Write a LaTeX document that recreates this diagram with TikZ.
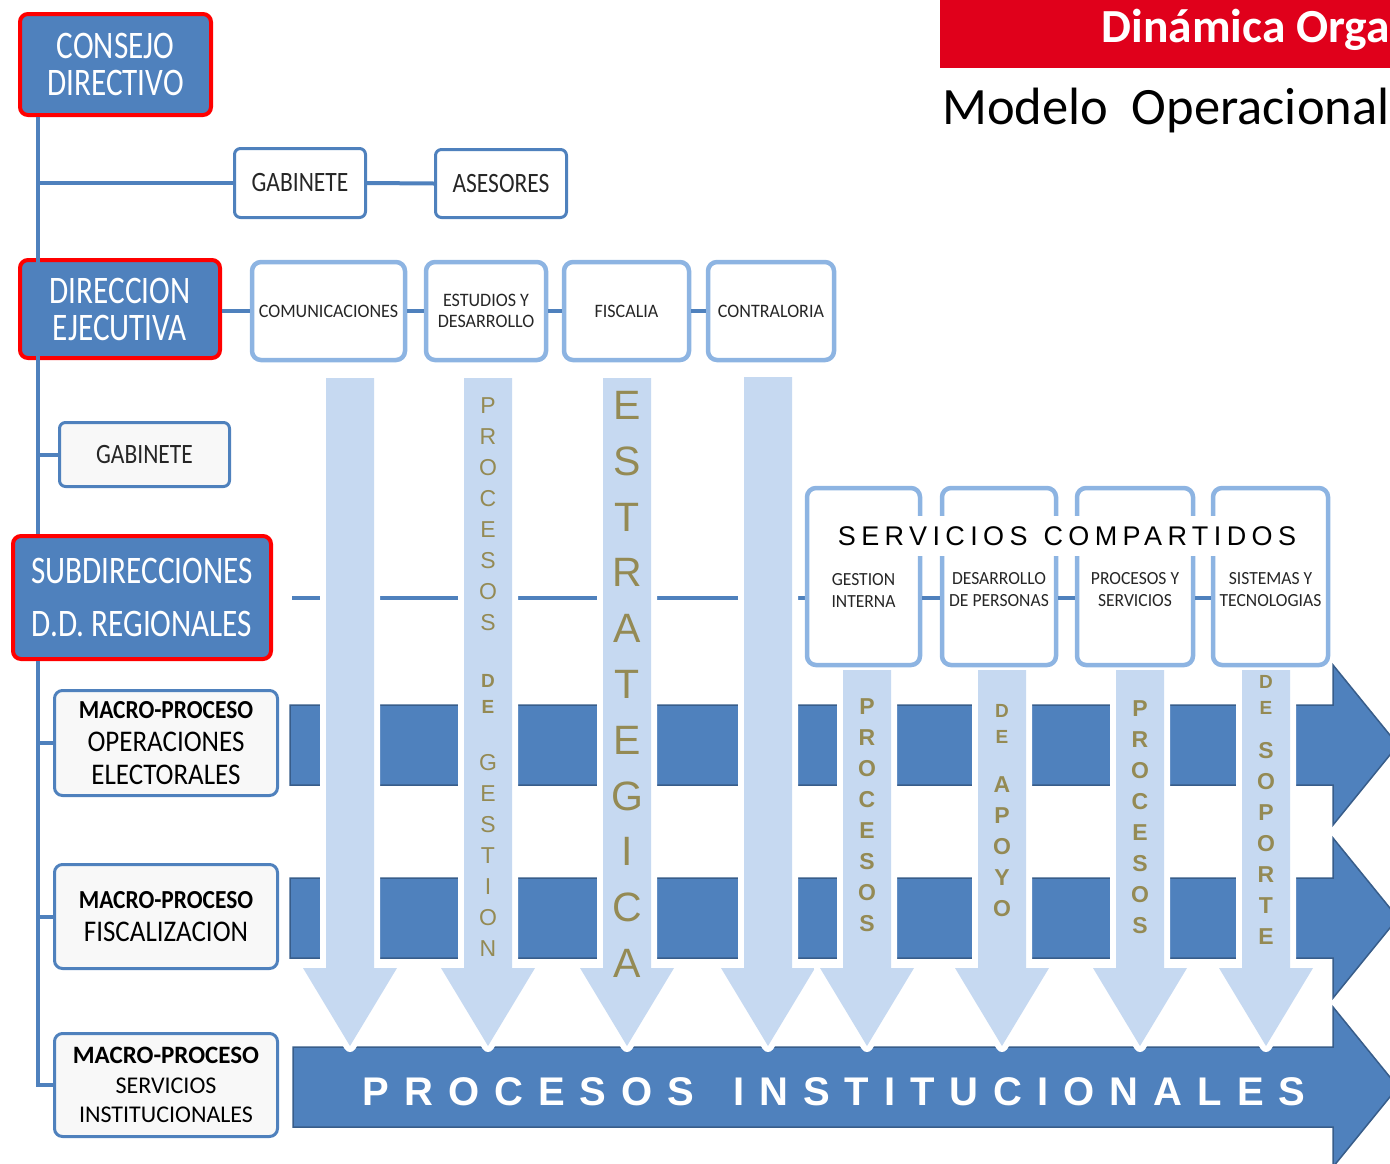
\documentclass[tikz,border=0pt]{standalone}
\usepackage{fontspec}
\setmainfont{Carlito}
\newfontfamily\deepfont[FakeStretch=0.8]{Carlito}
\newfontfamily\plainboxfont[FakeStretch=0.84]{Carlito}
\newfontfamily\macrofont[FakeStretch=0.9]{Carlito}
\newfontfamily\cellfont[FakeStretch=0.95]{Carlito}
\newfontfamily\arialfont{Liberation Sans}
\newcommand\smallletter{\bfseries\fontsize{19}{20}\selectfont}
\usetikzlibrary{calc}
\pgfdeclarelayer{background}
\pgfsetlayers{background,main}
\definecolor{dkblue}{HTML}{4F81BD}
\definecolor{dkedge}{HTML}{385D8A}
\definecolor{boxred}{HTML}{FF0000}
\definecolor{bannerred}{HTML}{E0001B}
\definecolor{lblue}{HTML}{8DB4E2}
\definecolor{arrowblue}{HTML}{C6D9F1}
\definecolor{goldtext}{HTML}{948A54}
\definecolor{greyfill}{HTML}{F8F8F8}
\definecolor{txtgrey}{HTML}{262626}
\tikzset{>=latex}

\begin{document}
\begin{tikzpicture}[x=1pt, y=-1pt,
    bluebox/.style={rounded corners=8pt, fill=dkblue, draw=boxred, line width=4pt, text=white, align=center, inner sep=0pt, font=\deepfont\fontsize{39}{37}\selectfont},
    whitebox/.style={rounded corners=6pt, fill=white, draw=dkblue, line width=3pt, text=txtgrey, align=center, inner sep=0pt, font=\plainboxfont\fontsize{28}{30}\selectfont},
    lightbox/.style={rounded corners=9pt, fill=white, draw=lblue, line width=4.5pt, text=txtgrey, align=center, inner sep=0pt, font=\cellfont\fontsize{19}{21}\selectfont},
    macrobox/.style={rounded corners=8pt, fill=greyfill, draw=dkblue, line width=3pt, text=black, align=center, inner sep=0pt, minimum width=223pt, font=\macrofont\fontsize{30}{33}\selectfont},
    conn/.style={draw=dkblue, line width=4pt},
    bandarrow/.style={fill=dkblue, draw=dkedge, line width=1.5pt, line join=miter},
    downarrow/.style={fill=arrowblue, preaction={draw=white, line width=12pt, line join=round}},
    vletters/.style={text=goldtext, align=center, inner sep=0pt, anchor=north, font=\arialfont\fontsize{23}{31}\selectfont},
    vbold/.style={vletters, font=\arialfont\bfseries\fontsize{23}{31}\selectfont},
    sctext/.style={text=txtgrey, align=center, inner sep=0pt, font=\cellfont\fontsize{18.5}{22}\selectfont}]

    \useasboundingbox (0,0) rectangle (1390,1163);

    % header
    \fill[bannerred] (940,0) rectangle (1390,68);
    \node[anchor=base east, text=white, inner sep=0pt, font=\bfseries\fontsize{47.5}{50}\selectfont] (title) at (1390,42) {Dinámica Orga};
    \node[anchor=base west, inner sep=0pt, font=\fontsize{52.5}{60}\selectfont] (subtitle) at (942,124) {Modelo~~Operacional};

    % horizontal arrows
    \foreach \y/\xs in {745/290, 918/290, 1087/293}
        \draw[bandarrow] (\xs,\y-40) -- (1333,\y-40) -- (1333,\y-80) -- (1398,\y) -- (1333,\y+80) -- (1333,\y+40) -- (\xs,\y+40) -- cycle;

    % vertical arrows
    \foreach \x/\t in {350/378, 488/378, 627/378, 768/377, 867/670, 1002/670, 1140/670, 1266/670}
        \path[downarrow] (\x-24,\t) -- (\x+24,\t) -- (\x+24,968) -- (\x+47,968) -- (\x,1046) -- (\x-47,968) -- (\x-24,968) -- cycle;

    \node[vletters] (gestion) at (488,397) {P\\R\\O\\C\\E\\S\\O\\S\\[26pt]\smallletter D\\[-5pt]\smallletter E\\[26pt]G\\E\\S\\T\\I\\O\\N};
    \node[vletters, font=\arialfont\fontsize{41}{55.8}\selectfont] (estrategica) at (627,391) {E\\S\\T\\R\\A\\T\\E\\G\\I\\C\\A};
    \node[vbold] (procA) at (867,698) {P\\R\\O\\C\\E\\S\\O\\S};
    \node[vbold] (apoyo) at (1002,704) {\smallletter D\\[-5pt]\smallletter E\\[18pt]A\\P\\O\\Y\\O};
    \node[vbold] (procB) at (1140,700) {P\\R\\O\\C\\E\\S\\O\\S};
    \node[vbold] (soporte) at (1266,675) {\smallletter D\\[-5pt]\smallletter E\\[13pt]S\\O\\P\\O\\R\\T\\E};

    \node[text=white, inner sep=0pt, font=\fontsize{40}{44}\selectfont\arialfont\bfseries\addfontfeature{LetterSpace=37.5}] (institucional) at (834,1092) {PROCESOS\hspace{13pt} INSTITUCIONALES};

    % boxes
    \node[bluebox, minimum width=191pt, minimum height=101pt] (consejo) at (115.5,64.5) {CONSEJO\\DIRECTIVO};
    \node[whitebox, minimum width=131pt, minimum height=69pt] (gabtop) at (300,183) {GABINETE};
    \node[whitebox, minimum width=131pt, minimum height=68pt] (asesores) at (501,183.5) {ASESORES};

    \node[bluebox, minimum width=200pt, minimum height=98pt] (direccion) at (120,309) {DIRECCION\\EJECUTIVA};
    \node[lightbox, minimum width=153pt, minimum height=98pt] (comunic) at (328.5,311) {COMUNICACIONES};
    \node[lightbox, minimum width=120pt, minimum height=98pt] (estudios) at (486,311) {ESTUDIOS Y\\DESARROLLO};
    \node[lightbox, minimum width=125pt, minimum height=98pt] (fiscalia) at (626.5,311) {FISCALIA};
    \node[lightbox, minimum width=126pt, minimum height=98pt] (contraloria) at (771,311) {CONTRALORIA};

    \node[whitebox, fill=greyfill, minimum width=170pt, minimum height=64pt] (gabdiv) at (144.5,454.5) {GABINETE};
    \node[bluebox, minimum width=258pt, minimum height=123pt, font=\deepfont\fontsize{39}{53}\selectfont] (subdir) at (142,597.5) {SUBDIRECCIONES\\D.D. REGIONALES};

    \node[macrobox, minimum height=105pt] (mpelect) at (166,743) {{\bfseries\fontsize{26}{33}\selectfont MACRO-PROCESO}\\OPERACIONES\\ELECTORALES};
    \node[macrobox, minimum height=104pt] (mpfisc) at (166,916.5) {{\bfseries\fontsize{26}{33}\selectfont MACRO-PROCESO}\\FISCALIZACION};
    \node[macrobox, minimum height=103pt, font=\fontsize{24}{29.5}\selectfont] (mpserv) at (166,1085) {{\bfseries\fontsize{25}{29.5}\selectfont MACRO-PROCESO}\\SERVICIOS\\INSTITUCIONALES};

    % servicios compartidos
    \node[lightbox, minimum width=113pt, minimum height=177pt] (sc1) at (863.5,576.5) {};
    \node[lightbox, minimum width=114pt, minimum height=177pt] (sc2) at (999,576.5) {};
    \node[lightbox, minimum width=116pt, minimum height=177pt] (sc3) at (1135,576.5) {};
    \node[lightbox, minimum width=115pt, minimum height=177pt] (sc4) at (1270.5,576.5) {};
    \node[sctext] (sc1txt) at (863.5,590) {GESTION\\INTERNA};
    \node[sctext] (sc2txt) at (999,590) {DESARROLLO\\DE PERSONAS};
    \node[sctext] (sc3txt) at (1135,590) {PROCESOS Y\\SERVICIOS};
    \node[sctext] (sc4txt) at (1270.5,590) {SISTEMAS Y\\TECNOLOGIAS};
    \node[fill=white, inner xsep=6pt, inner ysep=10pt, font=\fontsize{27}{30}\selectfont\arialfont\addfontfeature{LetterSpace=20}] (sctitle) at (1067,536) {SERVICIOS\hspace{3pt} COMPARTIDOS};

    % connectors
    \coordinate (t0) at (38,0);
    \coordinate (dl) at (292,598);
    \draw[conn] (consejo.south -| t0) -- (subdir.north -| t0);
    \draw[conn] (subdir.south -| t0) |- (mpserv.west);
    \draw[conn] (gabtop.west -| t0) -- (gabtop.west);
    \draw[conn] (gabdiv.west -| t0) -- (gabdiv.west);
    \draw[conn] (mpelect.west -| t0) -- (mpelect.west);
    \draw[conn] (mpfisc.west -| t0) -- (mpfisc.west);
    \draw[conn] (gabtop.east) -- (asesores.west);
    \draw[conn] (direccion.east |- comunic.west) -- (comunic.west);
    \foreach \a/\b in {comunic/estudios, estudios/fiscalia, fiscalia/contraloria}
        \draw[conn] (\a.east) -- (\b.west);
    \foreach \a/\b in {sc1/sc2, sc2/sc3, sc3/sc4}
        \draw[conn] (\a.east |- dl) -- (\b.west |- dl);
    \begin{pgfonlayer}{background}
        \draw[conn] (dl) -- (sc1.west |- dl);
    \end{pgfonlayer}
\end{tikzpicture}
\end{document}
